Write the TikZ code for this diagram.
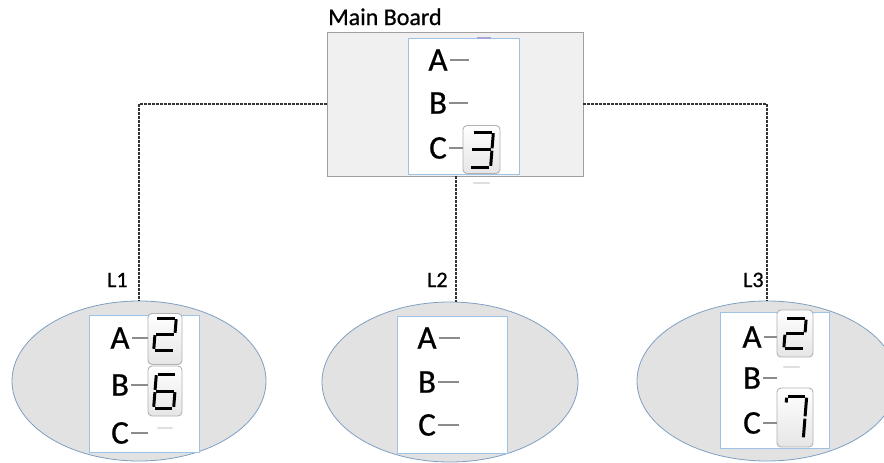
\documentclass[tikz,border=0pt]{standalone}
\usepackage{fontspec}
\setmainfont{Carlito}
\newfontfamily\heavy{Carlito}[FakeBold=0.7]
\usetikzlibrary{shapes.geometric,calc}
\definecolor{ellfill}{HTML}{E2E2E2}
\definecolor{ellline}{HTML}{7F9FC3}
\definecolor{boxline}{HTML}{9DC3E6}
\definecolor{mainfill}{HTML}{F0F0F0}
\definecolor{mainline}{HTML}{A0A0A0}
\definecolor{conncol}{HTML}{333333}
\definecolor{dashcol}{HTML}{8C8C8C}
\newcommand\dsegT[2]{\draw[seg] (-#1+1.2,-#2)--(#1-1.2,-#2);}
\newcommand\dsegM[2]{\draw[seg] (-#1+1.2,0)--(#1-1.2,0);}
\newcommand\dsegB[2]{\draw[seg] (-#1+1.2,#2)--(#1-1.2,#2);}
\newcommand\dsegUL[2]{\draw[seg] (-#1,-#2+1.2)--(-#1,-1.2);}
\newcommand\dsegUR[2]{\draw[seg] (#1,-#2+1.2)--(#1,-1.2);}
\newcommand\dsegLL[2]{\draw[seg] (-#1,1.2)--(-#1,#2-1.2);}
\newcommand\dsegLR[2]{\draw[seg] (#1,1.2)--(#1,#2-1.2);}
\newcommand\dsegTK[2]{\draw[seg] (-#1,-#2+1.2)--(-#1,-#2+6);}
\newcommand\sevseg[5]{%
  \begin{scope}[shift={(#1.center)},yshift=#4,xslant=0.08]
    \foreach \s in {#5}{\csname dseg\s\endcsname{#2}{#3}}
  \end{scope}}
\begin{document}
\begin{tikzpicture}[x=1pt,y=-1pt,
  mainbox/.style={draw=mainline,fill=mainfill,line width=0.8pt,inner sep=0pt,
    minimum width=256pt,minimum height=144pt},
  panel/.style={draw=boxline,fill=white,line width=0.8pt,inner sep=0pt},
  lobe/.style={ellipse,draw=ellline,fill=ellfill,line width=0.8pt,inner sep=0pt,
    minimum width=254pt,minimum height=160pt},
  conn/.style={draw=conncol,line width=1.8pt,dash pattern=on 2.6pt off 1.4pt},
  letter/.style={inner sep=0pt,font=\heavy\fontsize{33}{36}\selectfont},
  title/.style={inner sep=0pt,font=\heavy\fontsize{24}{28}\selectfont},
  tag/.style={inner sep=0pt,font=\heavy\fontsize{22}{26}\selectfont},
  lead/.style={draw=dashcol,line width=1.1pt},
  digbox/.style={draw=gray!60,top color=white,bottom color=gray!20,rounded corners=4pt,
    line width=0.9pt,inner sep=0pt},
  seg/.style={line width=3pt,black},
  ghost/.style={draw=gray!25,line width=2.5pt,line cap=round}
]
\useasboundingbox (0,0) rectangle (884,463);
\clip (0,0) rectangle (884,463);

% main board
\node[mainbox] (mainbd) at (455,104) {};
\node[panel,minimum width=111pt,minimum height=136pt] (mpanel) at (463.5,106) {};
\node[title,anchor=base west] (mtitle) at (328,25) {Main Board};
\draw[draw=gray!60!blue!50,line width=2pt] (477,37.5) -- (491,37.5);

% lobes
\node[lobe] (l1) at (139,381) {};
\node[lobe,minimum width=256pt] (l2) at (450,382) {};
\node[lobe,minimum width=260pt] (l3) at (767,381) {};

% connectors
\draw[conn] (mainbd.west) -| (l1.north);
\draw[conn] (mainbd.east) -| (l3.north);
\coordinate (mid) at (456,176);
\draw[conn] (mid) -- (mid |- l2.north);

\node[tag,anchor=base west] (t1) at (107,287) {L1};
\node[tag,anchor=base west] (t2) at (427,287) {L2};
\node[tag,anchor=base west] (t3) at (743,287) {L3};

% main panel contents
\node[letter] (ma) at (438,60) {A};
\node[letter] (mb) at (438,103) {B};
\node[letter] (mc) at (438,148) {C};
\node[digbox,minimum width=37pt,minimum height=48pt] (mdc) at (481.5,149.5) {};
\draw[lead] (ma.east) ++(2,0) -- ++(19,0);
\draw[lead] (mb.east) ++(2,0) -- ++(19,0);
\draw[lead] (mc.east) ++(2,0) -- (mdc.west |- mc.east);
\sevseg{mdc}{10.5}{17.5}{0pt}{T,UR,M,LR,B}
\draw[ghost] (474,183) -- (489,183);

% L1 contents
\node[panel,minimum width=110pt,minimum height=137pt] (p1) at (144,383.5) {};
\node[letter] (aa) at (120,338) {A};
\node[letter] (ab) at (120,385) {B};
\node[letter] (ac) at (120,433) {C};
\node[digbox,minimum width=34pt,minimum height=51pt] (d1a) at (165,339) {};
\node[digbox,minimum width=34pt,minimum height=50pt] (d1b) at (165,391) {};
\draw[lead] (aa.east) ++(2,0) -- (d1a.west |- aa.east);
\draw[lead] (ab.east) ++(2,0) -- (d1b.west |- ab.east);
\draw[lead] (ac.east) ++(2,0) -- ++(17,0);
\sevseg{d1a}{10}{16}{5pt}{T,UR,M,LL,B}
\sevseg{d1b}{10}{17}{0pt}{T,UL,M,LL,LR,B}
\draw[ghost] (158,428) -- (172,428);

% L2 contents
\node[panel,minimum width=110pt,minimum height=137pt] (p2) at (452,384.5) {};
\node[letter] (ba) at (427,338) {A};
\node[letter] (bb) at (427,382) {B};
\node[letter] (bc) at (427,425) {C};
\draw[lead] (ba.east) ++(2,0) -- ++(21,0);
\draw[lead] (bb.east) ++(2,0) -- ++(21,0);
\draw[lead] (bc.east) ++(2,0) -- ++(21,0);

% L3 contents
\node[panel,minimum width=109pt,minimum height=136pt] (p3) at (774.5,380) {};
\node[letter] (ca) at (752,337) {A};
\node[letter] (cb) at (752,378) {B};
\node[letter] (cc) at (752,423) {C};
\node[digbox,minimum width=36pt,minimum height=47pt] (d3a) at (795,333.5) {};
\node[digbox,minimum width=36pt,minimum height=59pt] (d3c) at (795,417.5) {};
\draw[lead] (ca.east) ++(2,0) -- (d3a.west |- ca.east);
\draw[lead] (cb.east) ++(2,0) -- ++(14,0);
\draw[lead] (cc.east) ++(2,0) -- (d3c.west |- cc.east);
\sevseg{d3a}{10}{15}{0pt}{T,UR,M,LL,B}
\sevseg{d3c}{10}{21}{0pt}{T,TK,UR,LR}
\draw[ghost] (784,367) -- (799,367);
\end{tikzpicture}
\end{document}
